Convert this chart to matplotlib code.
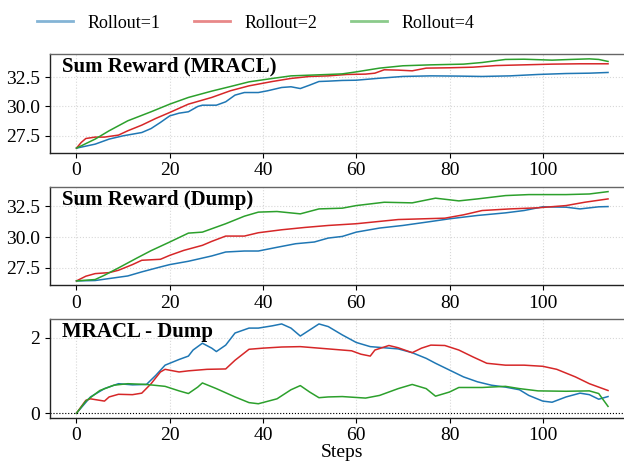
import matplotlib
matplotlib.use("Agg")
import matplotlib.pyplot as plt

plt.rcParams['font.family'] = ['Liberation Serif', 'DejaVu Serif']
plt.rcParams['mathtext.fontset'] = 'stix'

labels = ['Rollout=1', 'Rollout=2', 'Rollout=4']
colors = ['#1f77b4', '#d62728', '#2ca02c']

# Sum reward with MRACL
mracl_r1_steps = [0, 4, 7, 10, 14, 16, 18, 20, 22, 24, 26, 27, 30, 32, 34, 36, 39, 41, 44, 46,
                  48, 50, 52, 54, 57, 60, 65, 70, 76, 82, 87, 93, 99, 105, 110, 114]
mracl_r1 = [26.45, 26.79, 27.22, 27.5, 27.78, 28.12, 28.64, 29.2, 29.43, 29.55,
            30.0, 30.11, 30.11, 30.4, 30.97, 31.19, 31.19, 31.34, 31.62, 31.68,
            31.53, 31.82, 32.13, 32.16, 32.22, 32.24, 32.41, 32.56, 32.61, 32.59,
            32.56, 32.61, 32.73, 32.81, 32.84, 32.9]
mracl_r2_steps = [0, 1, 2, 4, 6, 9, 11, 14, 17, 20, 24, 29, 33, 37, 42, 46, 50, 54, 58, 62,
                  64, 66, 69, 72, 75, 80, 85, 90, 96, 102, 108, 114]
mracl_r2 = [26.45, 26.93, 27.27, 27.39, 27.39, 27.56, 27.93, 28.41, 28.98, 29.49,
            30.2, 30.77, 31.34, 31.76, 32.13, 32.39, 32.56, 32.61, 32.73, 32.76,
            32.84, 33.13, 33.1, 33.04, 33.27, 33.3, 33.35, 33.49, 33.55, 33.61,
            33.64, 33.64]
mracl_r4_steps = [0, 4, 7, 11, 16, 20, 24, 29, 33, 37, 42, 46, 50, 54, 57, 60, 65, 70, 76, 83,
                  87, 92, 96, 102, 106, 110, 112, 114]
mracl_r4 = [26.45, 27.22, 27.93, 28.78, 29.55, 30.2, 30.77, 31.31, 31.7, 32.1,
            32.39, 32.61, 32.67, 32.73, 32.78, 32.95, 33.27, 33.47, 33.55, 33.61,
            33.75, 34.01, 34.03, 33.95, 34.01, 34.06, 34.01, 33.84]

# Sum reward with Dump
dump_r1_steps = [0, 4, 7, 11, 14, 18, 20, 24, 29, 32, 36, 39, 43, 47, 51, 54, 57, 60, 65, 70,
                 76, 80, 86, 92, 96, 100, 105, 108, 112, 114]
dump_r1 = [26.45, 26.48, 26.64, 26.85, 27.18, 27.58, 27.77, 28.04, 28.47, 28.79,
           28.87, 28.87, 29.17, 29.46, 29.6, 29.92, 30.05, 30.4, 30.73, 30.94,
           31.26, 31.48, 31.75, 31.96, 32.15, 32.45, 32.42, 32.28, 32.45, 32.47]
dump_r2_steps = [0, 2, 4, 7, 9, 12, 14, 18, 20, 23, 27, 29, 32, 36, 39, 44, 49, 54, 60, 69,
                 79, 83, 87, 93, 99, 105, 109, 114]
dump_r2 = [26.45, 26.83, 27.04, 27.12, 27.31, 27.77, 28.12, 28.2, 28.52, 28.92,
           29.33, 29.65, 30.08, 30.08, 30.35, 30.59, 30.78, 30.94, 31.08, 31.42,
           31.53, 31.8, 32.15, 32.28, 32.37, 32.55, 32.82, 33.09]
dump_r4_steps = [0, 4, 6, 9, 13, 16, 20, 24, 27, 32, 36, 39, 43, 48, 52, 57, 60, 66, 72, 77,
                 82, 86, 92, 97, 105, 110, 114]
dump_r4 = [26.45, 26.56, 26.91, 27.5, 28.31, 28.9, 29.6, 30.32, 30.4, 31.08,
           31.69, 32.02, 32.07, 31.88, 32.28, 32.34, 32.55, 32.82, 32.77, 33.15,
           32.93, 33.09, 33.36, 33.44, 33.44, 33.49, 33.68]

# MRACL minus Dump
diff_r1_steps = [0, 3, 6, 9, 12, 15, 17, 19, 22, 24, 25, 27, 29, 30, 32, 34, 37, 39, 42, 44,
                 46, 48, 50, 52, 54, 57, 60, 63, 66, 69, 72, 75, 77, 80, 83, 86, 89, 92, 95, 97,
                 100, 102, 105, 108, 110, 112, 114]
diff_r1 = [0.0, 0.43, 0.65, 0.78, 0.75, 0.76, 1.0, 1.27, 1.42, 1.51,
           1.67, 1.85, 1.72, 1.63, 1.80, 2.12, 2.25, 2.25, 2.31, 2.36,
           2.25, 2.04, 2.2, 2.36, 2.29, 2.07, 1.87, 1.76, 1.73, 1.70,
           1.60, 1.45, 1.32, 1.14, 0.96, 0.83, 0.74, 0.69, 0.62, 0.47,
           0.32, 0.29, 0.43, 0.53, 0.49, 0.37, 0.44]
diff_r2_steps = [0, 2, 3, 6, 7, 9, 12, 14, 16, 18, 19, 22, 24, 28, 32, 34, 37, 40, 44, 48,
                 52, 56, 59, 61, 63, 64, 67, 69, 72, 74, 76, 79, 82, 85, 88, 92, 96, 100, 103, 107,
                 110, 114]
diff_r2 = [0.0, 0.34, 0.38, 0.32, 0.43, 0.50, 0.49, 0.53, 0.78, 1.09,
           1.16, 1.09, 1.12, 1.16, 1.17, 1.40, 1.69, 1.72, 1.75, 1.76,
           1.72, 1.68, 1.65, 1.56, 1.51, 1.67, 1.79, 1.73, 1.60, 1.72,
           1.80, 1.79, 1.67, 1.49, 1.32, 1.27, 1.27, 1.24, 1.16, 0.96,
           0.78, 0.60]
diff_r4_steps = [0, 2, 5, 8, 11, 15, 19, 22, 24, 26, 27, 30, 34, 37, 39, 43, 46, 48, 50, 52,
                 54, 57, 62, 65, 69, 72, 75, 77, 80, 82, 87, 92, 95, 99, 105, 110, 112, 114]
diff_r4 = [0.0, 0.32, 0.60, 0.74, 0.78, 0.76, 0.71, 0.59, 0.52, 0.69,
           0.80, 0.65, 0.43, 0.28, 0.25, 0.38, 0.62, 0.73, 0.56, 0.41,
           0.43, 0.44, 0.40, 0.47, 0.65, 0.76, 0.65, 0.45, 0.56, 0.68,
           0.68, 0.71, 0.65, 0.59, 0.58, 0.59, 0.52, 0.18]

panel_titles = ['Sum Reward (MRACL)', 'Sum Reward (Dump)', 'MRACL - Dump']
panel_series = [
    [(mracl_r1_steps, mracl_r1), (mracl_r2_steps, mracl_r2), (mracl_r4_steps, mracl_r4)],
    [(dump_r1_steps, dump_r1), (dump_r2_steps, dump_r2), (dump_r4_steps, dump_r4)],
    [(diff_r1_steps, diff_r1), (diff_r2_steps, diff_r2), (diff_r4_steps, diff_r4)],
]
x_ticks = [0, 20, 40, 60, 80, 100]
reward_ticks = [27.5, 30.0, 32.5]
diff_ticks = [0, 2]

fig = plt.figure(figsize=(6.24, 4.61), dpi=100)
# axes run a little past the right edge of the canvas
bottoms = [0.669, 0.381, 0.094]
axes = [fig.add_axes([0.080, b, 0.937, 0.213]) for b in bottoms]

for i, ax in enumerate(axes):
    for (steps, vals), lab, c in zip(panel_series[i], labels, colors):
        ax.plot(steps, vals, color=c, lw=1.1, label=lab)
    ax.grid(True, color='#d8d8d8', ls=':', lw=0.8)
    ax.set_axisbelow(True)
    ax.set_xticks(x_ticks)
    ax.set_yticks(diff_ticks if i == 2 else reward_ticks)
    if i < 2:
        ax.set_yticklabels([f'{t:.1f}' for t in reward_ticks])
    ax.tick_params(labelsize=14, length=3.5, width=0.8)
    for sp in ax.spines.values():
        sp.set_color('#222222')
        sp.set_linewidth(1.0)
    ax.spines['top'].set_color('#666666')
    ax.text(0.02, 0.975, panel_titles[i], transform=ax.transAxes, ha='left', va='top',
            fontsize=15, fontweight='bold')

axes[2].axhline(0, color='black', ls=':', lw=0.8)
axes[2].set_xlabel('Steps', fontsize=14, labelpad=0)

handles, leg_labels = axes[0].get_legend_handles_labels()
leg = fig.legend(handles, leg_labels, loc='center', bbox_to_anchor=(0.41, 0.95), ncol=3,
                 frameon=False, fontsize=13, handlelength=2.0, columnspacing=1.85)
for line in leg.get_lines():
    line.set_alpha(0.55)
    line.set_linewidth(2.0)

fig.savefig('out.png', dpi=100)
